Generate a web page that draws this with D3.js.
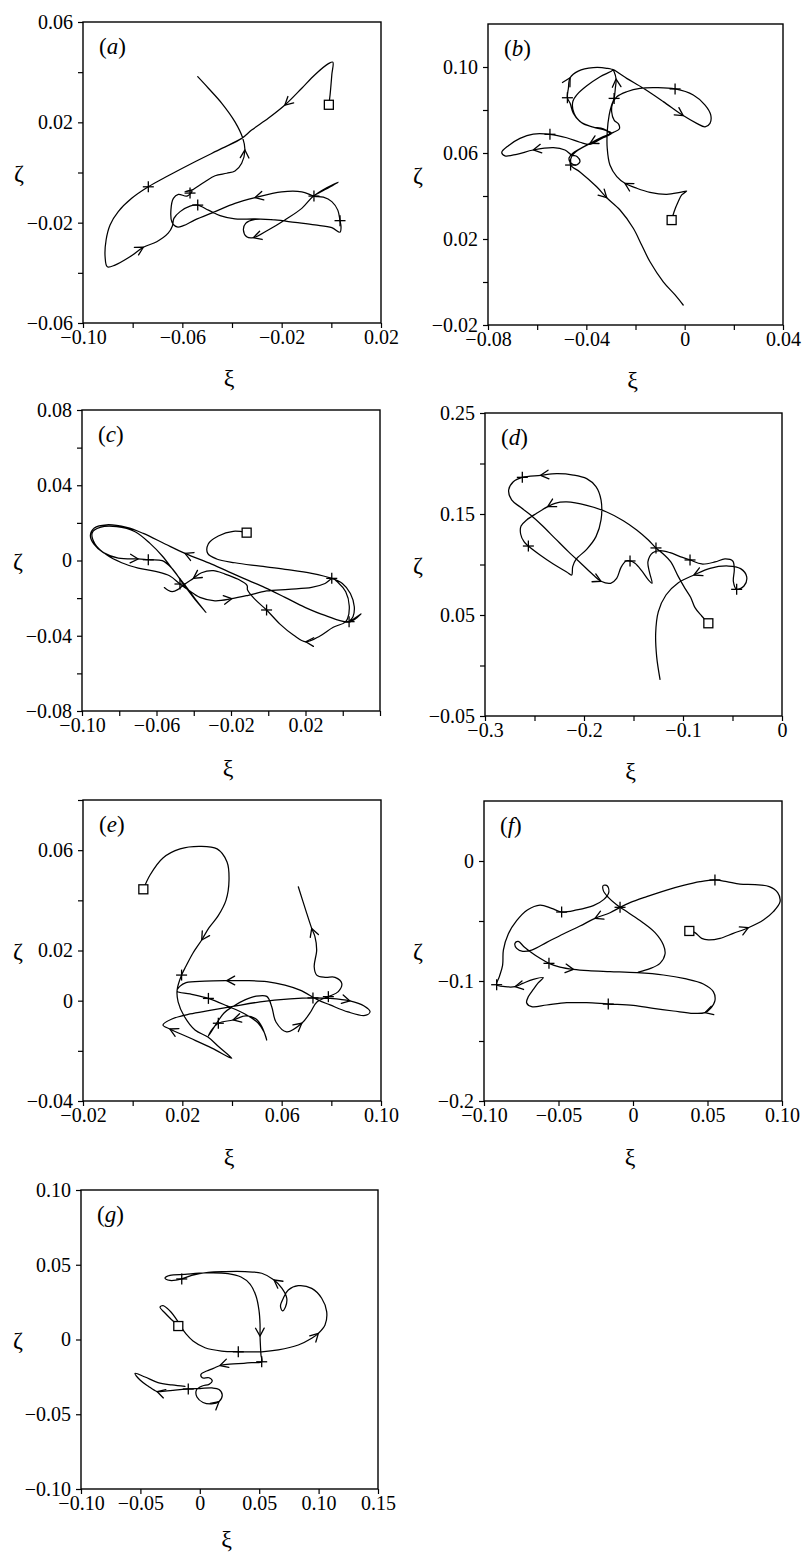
<!DOCTYPE html>
<html>
<head>
<meta charset="utf-8">
<script src="https://cdn.jsdelivr.net/npm/d3@7"></script>
<style>
  html, body { margin: 0; padding: 0; background: #fff; }
  svg { display: block; }
</style>
</head>
<body>
<svg id="fig" width="805" height="1556"></svg>
<script>
// ---------- panel (a) ----------
const trajA = [[-0.001,0.027],[-0.0005,0.031],[0.0002,0.039],[0.0006,0.044],[-0.001,0.0435],[-0.0066,0.039],[-0.0119,0.0336],[-0.0187,0.0269],[-0.0254,0.0216],[-0.0321,0.0169],[-0.0361,0.0136],[-0.0441,0.0096],[-0.0549,0.0043],[-0.0657,-0.0013],[-0.0737,-0.0057],[-0.0804,-0.0103],[-0.0858,-0.0156],[-0.0891,-0.0209],[-0.0907,-0.0269],[-0.0911,-0.0336],[-0.0902,-0.0376],[-0.0871,-0.0369],[-0.0811,-0.0336],[-0.0757,-0.0298],[-0.0703,-0.0276],[-0.0657,-0.0242],[-0.064,-0.0213],[-0.0634,-0.0183],[-0.0609,-0.0156],[-0.0569,-0.0134],[-0.0538,-0.013],[-0.0495,-0.015],[-0.0448,-0.0172],[-0.0388,-0.0185],[-0.0307,-0.0185],[-0.0227,-0.0189],[-0.0146,-0.0199],[-0.0066,-0.0209],[0.0002,-0.022],[0.0035,-0.0238],[0.0039,-0.0216],[0.0035,-0.0192],[0.0026,-0.015],[0.0002,-0.0116],[-0.0032,-0.0098],[-0.007,-0.0094],[-0.0025,-0.0068],[0.0028,-0.0039],[-0.0017,-0.006],[-0.0074,-0.0096],[-0.0119,-0.0143],[-0.0187,-0.0189],[-0.0254,-0.0229],[-0.0314,-0.026],[-0.0341,-0.0256],[-0.0354,-0.0229],[-0.0345,-0.0203],[-0.0307,-0.0187],[-0.0227,-0.0189],[-0.0146,-0.0199],[-0.0066,-0.0209],[0.0002,-0.022],[0.0035,-0.0238],[0.0039,-0.0216],[0.0035,-0.0192],[0.0026,-0.015],[0.0002,-0.0116],[-0.0032,-0.0098],[-0.007,-0.0094],[-0.0119,-0.0077],[-0.020,-0.0077],[-0.0307,-0.010],[-0.0388,-0.0123],[-0.0468,-0.0156],[-0.0549,-0.0189],[-0.0596,-0.0212],[-0.0621,-0.0217],[-0.0642,-0.0197],[-0.0646,-0.015],[-0.0636,-0.0103],[-0.0616,-0.0087],[-0.0581,-0.0094],[-0.0561,-0.0074],[-0.0589,-0.0076],[-0.0557,-0.0068],[-0.0549,-0.0063],[-0.0509,-0.0037],[-0.0468,-0.0013],[-0.0421,-0.0003],[-0.0388,0.0006],[-0.0361,0.0037],[-0.0348,0.009],[-0.0357,0.0138],[-0.0388,0.0202],[-0.0441,0.0276],[-0.0495,0.0336],[-0.0538,0.0382]];
const plusA = [[-0.0737,-0.0057],[-0.0538,-0.013],[0.0035,-0.0192],[-0.007,-0.0094],[-0.0569,-0.0082]];
const arrowsA = [[-0.0187,0.0269],[-0.0757,-0.0298],[-0.0314,-0.026],[-0.0307,-0.010],[-0.0348,0.009]];
const xTicksA = [-0.10,-0.08,-0.06,-0.04,-0.02,0,0.02];
const xLabelsA = ['\u22120.10','','\u22120.06','','\u22120.02','','0.02'];
const yTicksA = [-0.06,-0.04,-0.02,0,0.02,0.04,0.06];
const yLabelsA = ['\u22120.06','','\u22120.02','','0.02','','0.06'];

// ---------- panel (b) ----------
const trajB = [[-0.0053,0.0288],[-0.0043,0.0327],[-0.0026,0.0374],[-0.0012,0.0405],[0.0008,0.0423],[-0.0019,0.0417],[-0.0073,0.0408],[-0.0141,0.0417],[-0.0195,0.0436],[-0.0243,0.0459],[-0.0276,0.049],[-0.0304,0.0544],[-0.0315,0.0622],[-0.0315,0.0699],[-0.0307,0.0777],[-0.0297,0.0823],[-0.0287,0.0854],[-0.0282,0.0901],[-0.0279,0.0944],[-0.0287,0.0978],[-0.0293,0.0989],[-0.0236,0.0947],[-0.0168,0.0901],[-0.0087,0.0839],[-0.0006,0.0774],[0.0049,0.0738],[0.0083,0.0722],[0.0103,0.0738],[0.0106,0.0777],[0.0083,0.0823],[0.0035,0.087],[-0.0039,0.0898],[-0.0114,0.0904],[-0.0182,0.0901],[-0.0236,0.0885],[-0.0276,0.0862],[-0.0293,0.0831],[-0.0297,0.0792],[-0.0287,0.0753],[-0.0268,0.0733],[-0.0266,0.0712],[-0.029,0.0696],[-0.0331,0.0676],[-0.0385,0.0645],[-0.0426,0.0619],[-0.0455,0.0599],[-0.047,0.0578],[-0.0466,0.0557],[-0.0442,0.0544],[-0.0426,0.056],[-0.0437,0.0583],[-0.046,0.0591],[-0.0487,0.0614],[-0.0534,0.0625],[-0.0616,0.0614],[-0.0683,0.0594],[-0.0731,0.0587],[-0.0744,0.0603],[-0.0717,0.0634],[-0.067,0.0668],[-0.0616,0.0688],[-0.0548,0.0687],[-0.048,0.0671],[-0.0426,0.065],[-0.0385,0.064],[-0.0337,0.0668],[-0.0304,0.0687],[-0.0331,0.0712],[-0.0378,0.0722],[-0.0426,0.0746],[-0.0453,0.0785],[-0.0466,0.0831],[-0.0477,0.0857],[-0.0473,0.0901],[-0.0466,0.095],[-0.0433,0.0981],[-0.0372,0.0997],[-0.0317,0.0994],[-0.0293,0.0986],[-0.0344,0.0955],[-0.0398,0.0913],[-0.0437,0.0873],[-0.0455,0.0839],[-0.045,0.0785],[-0.0419,0.0741],[-0.0372,0.072],[-0.0324,0.0706],[-0.0297,0.0692],[-0.0337,0.0671],[-0.0388,0.0642],[-0.0433,0.0614],[-0.046,0.0583],[-0.0464,0.0544],[-0.0426,0.0512],[-0.0358,0.0443],[-0.0317,0.0392],[-0.0263,0.0335],[-0.0209,0.025],[-0.0175,0.0172],[-0.0141,0.0094],[-0.0087,0.0001],[-0.0039,-0.006],[-0.0006,-0.0107]];
const plusB = [[-0.0287,0.0854],[-0.0039,0.0898],[-0.0548,0.0687],[-0.0477,0.0857],[-0.0464,0.0544]];
const arrowsB = [[-0.0243,0.0459],[-0.0279,0.0944],[-0.0006,0.0774],[-0.0385,0.0645],[-0.0616,0.0614],[-0.0466,0.095],[-0.0317,0.0392]];
const xTicksB = [-0.08,-0.06,-0.04,-0.02,0,0.02,0.04];
const xLabelsB = ['\u22120.08','','\u22120.04','','0','','0.04'];
const yTicksB = [-0.02,0,0.02,0.04,0.06,0.08,0.10];
const yLabelsB = ['\u22120.02','','0.02','','0.06','','0.10'];

// ---------- panel (c) ----------
const trajC = [[-0.0116,0.0148],[-0.0188,0.0155],[-0.0268,0.013],[-0.0322,0.0088],[-0.0325,0.0038],[-0.0277,0.0008],[-0.0179,-0.0012],[-0.0053,-0.0029],[0.009,-0.0047],[0.0233,-0.0068],[0.0341,-0.0095],[0.0398,-0.0122],[0.0441,-0.0175],[0.0462,-0.0246],[0.0455,-0.0299],[0.0434,-0.0325],[0.0498,-0.0284],[0.0434,-0.0327],[0.0305,-0.0292],[0.0197,-0.0249],[0.009,-0.0196],[-0.0018,-0.0144],[-0.0107,-0.0106],[-0.0196,-0.0067],[-0.0304,-0.0019],[-0.0447,0.0038],[-0.0554,0.0088],[-0.0671,0.0144],[-0.076,0.0176],[-0.0868,0.019],[-0.0934,0.0173],[-0.0955,0.0134],[-0.0937,0.0088],[-0.0885,0.0042],[-0.0805,0.0013],[-0.0698,0.0008],[-0.0644,0.0004],[-0.0569,-0.0001],[-0.0515,-0.0044],[-0.0465,-0.0113],[-0.0402,-0.0196],[-0.0334,-0.0277],[-0.0384,-0.0215],[-0.0443,-0.0136],[-0.0504,-0.0059],[-0.0569,0.0024],[-0.0635,0.0091],[-0.0715,0.0153],[-0.0814,0.018],[-0.0903,0.0176],[-0.0945,0.0148],[-0.093,0.0088],[-0.0868,0.003],[-0.0787,-0.0012],[-0.0698,-0.004],[-0.0599,-0.0059],[-0.0528,-0.0082],[-0.0474,-0.0125],[-0.0429,-0.0157],[-0.0367,-0.0196],[-0.0286,-0.0214],[-0.0196,-0.0203],[-0.0107,-0.0185],[-0.0009,-0.0162],[0.0108,-0.0153],[0.0233,-0.0143],[0.0305,-0.0122],[0.0344,-0.0097],[0.0376,-0.0118],[0.0416,-0.0166],[0.0435,-0.0242],[0.0426,-0.0308],[0.0412,-0.0329],[0.0349,-0.0355],[0.0278,-0.0401],[0.0201,-0.0432],[0.0135,-0.0396],[0.0063,-0.0338],[-0.0009,-0.0263],[-0.0071,-0.0207],[-0.0111,-0.0157],[-0.0114,-0.0132],[-0.0161,-0.010],[-0.0232,-0.0072],[-0.0295,-0.0054],[-0.0358,-0.0065],[-0.0402,-0.0095],[-0.0447,-0.0125],[-0.0483,-0.0153],[-0.0515,-0.0166],[-0.054,-0.0157],[-0.0558,-0.0144]];
const plusC = [[0.0341,-0.0095],[0.0434,-0.0325],[-0.0644,0.0004],[-0.0474,-0.0125],[-0.0009,-0.0263]];
const arrowsC = [[-0.0447,0.0038],[-0.0698,0.0008],[-0.0196,-0.0203],[0.0201,-0.0432],[-0.0402,-0.0095]];
const xTicksC = [-0.10,-0.08,-0.06,-0.04,-0.02,0,0.02,0.04,0.06];
const xLabelsC = ['\u22120.10','','\u22120.06','','\u22120.02','','0.02','',''];
const yTicksC = [-0.08,-0.06,-0.04,-0.02,0,0.02,0.04,0.06,0.08];
const yLabelsC = ['\u22120.08','','\u22120.04','','0','','0.04','','0.08'];

// ---------- panel (d) ----------
const trajD = [[-0.0744,0.0418],[-0.0811,0.049],[-0.0879,0.0573],[-0.0923,0.0675],[-0.098,0.0764],[-0.1047,0.088],[-0.1125,0.1028],[-0.1199,0.1104],[-0.1273,0.1164],[-0.135,0.1243],[-0.1468,0.1342],[-0.1603,0.1434],[-0.1771,0.152],[-0.1973,0.1586],[-0.2175,0.1619],[-0.2293,0.1606],[-0.2367,0.1573],[-0.2478,0.1507],[-0.2579,0.1441],[-0.2636,0.1381],[-0.264,0.1302],[-0.2606,0.1226],[-0.2562,0.1183],[-0.2444,0.1094],[-0.231,0.1005],[-0.2175,0.0926],[-0.2125,0.0896],[-0.2114,0.0979],[-0.2081,0.1051],[-0.1973,0.115],[-0.1879,0.1276],[-0.1828,0.1441],[-0.1828,0.1639],[-0.1879,0.1771],[-0.1973,0.185],[-0.2108,0.1886],[-0.2276,0.1899],[-0.2438,0.1883],[-0.2623,0.1863],[-0.2714,0.182],[-0.2761,0.1738],[-0.2731,0.1639],[-0.264,0.1566],[-0.2539,0.149],[-0.2428,0.1391],[-0.2293,0.1259],[-0.2158,0.1127],[-0.2024,0.1005],[-0.1906,0.0896],[-0.1828,0.0834],[-0.1731,0.0814],[-0.167,0.0863],[-0.1626,0.0972],[-0.1576,0.1035],[-0.1535,0.1035],[-0.1485,0.1012],[-0.1418,0.0939],[-0.135,0.0847],[-0.1313,0.0814],[-0.134,0.0929],[-0.1354,0.1028],[-0.1306,0.1117],[-0.1232,0.1137],[-0.1131,0.1117],[-0.103,0.1078],[-0.0929,0.1045],[-0.0811,0.1005],[-0.0677,0.1025],[-0.0576,0.1055],[-0.0498,0.1035],[-0.0482,0.0952],[-0.0491,0.083],[-0.0458,0.0754],[-0.0384,0.0787],[-0.0357,0.088],[-0.0418,0.0959],[-0.0542,0.0985],[-0.0727,0.0962],[-0.0889,0.0896],[-0.1047,0.082],[-0.1172,0.0698],[-0.1249,0.0533],[-0.1276,0.0319],[-0.1266,0.0088],[-0.1232,-0.0137]];
const plusD = [[-0.1273,0.1164],[-0.2562,0.1183],[-0.2623,0.1863],[-0.1535,0.1035],[-0.0929,0.1045],[-0.0458,0.0754]];
const arrowsD = [[-0.2367,0.1573],[-0.2438,0.1883],[-0.1828,0.0834],[-0.0889,0.0896]];
const xTicksD = [-0.3,-0.25,-0.2,-0.15,-0.1,-0.05,0];
const xLabelsD = ['\u22120.3','','\u22120.2','','\u22120.1','','0'];
const yTicksD = [-0.05,0,0.05,0.10,0.15,0.20,0.25];
const yLabelsD = ['\u22120.05','','0.05','','0.15','','0.25'];

// ---------- panel (e) ----------
const trajE = [[0.0043,0.0444],[0.007,0.0501],[0.0122,0.0569],[0.0191,0.0605],[0.0271,0.0615],[0.034,0.0605],[0.038,0.0553],[0.0388,0.0481],[0.0376,0.0401],[0.0344,0.0338],[0.0307,0.029],[0.0278,0.0242],[0.0243,0.019],[0.0215,0.0138],[0.0197,0.0102],[0.0179,0.0042],[0.0183,-0.0005],[0.0207,-0.0061],[0.0251,-0.0117],[0.0303,-0.0145],[0.0348,-0.0185],[0.0399,-0.023],[0.0319,-0.0189],[0.0231,-0.0149],[0.015,-0.0113],[0.0122,-0.0097],[0.0158,-0.0073],[0.0231,-0.0053],[0.0311,-0.0039],[0.0404,-0.0023],[0.0513,-0.0005],[0.0634,0.0007],[0.0726,0.0011],[0.0795,0.0009],[0.0875,-0.0001],[0.0932,-0.0021],[0.0956,-0.0044],[0.0936,-0.0059],[0.0867,-0.0045],[0.0795,-0.0017],[0.0746,0.0003],[0.0674,0.0042],[0.0613,0.0062],[0.054,0.0076],[0.0456,0.008],[0.0379,0.008],[0.0291,0.0078],[0.0215,0.0072],[0.0191,0.0058],[0.0179,0.0038],[0.0231,0.0027],[0.0305,0.0009],[0.038,-0.0021],[0.0452,-0.0053],[0.0505,-0.0089],[0.0529,-0.0125],[0.054,-0.0157],[0.0521,-0.0105],[0.0497,-0.0073],[0.0456,-0.0061],[0.0404,-0.0077],[0.0345,-0.009],[0.0315,-0.0121],[0.0305,-0.0141],[0.0368,-0.0049],[0.0404,-0.0023],[0.0452,0.0003],[0.0493,0.0017],[0.054,0.0017],[0.056,-0.0024],[0.0577,-0.0085],[0.062,-0.0124],[0.0681,-0.009],[0.0714,-0.0049],[0.0742,-0.0005],[0.0788,0.0016],[0.0828,0.0036],[0.0842,0.0069],[0.0815,0.0093],[0.0775,0.0093],[0.0741,0.0102],[0.0731,0.0135],[0.0741,0.0202],[0.0734,0.0255],[0.0721,0.0288],[0.0701,0.0348],[0.0667,0.0454]];
const plusE = [[0.0197,0.0102],[0.0305,0.0009],[0.0345,-0.009],[0.0726,0.0011],[0.0788,0.0016]];
const arrowsE = [[0.0278,0.0242],[0.015,-0.0113],[0.0875,-0.0001],[0.0379,0.008],[0.0404,-0.0077],[0.0681,-0.009],[0.0721,0.0288]];
const xTicksE = [-0.02,0,0.02,0.04,0.06,0.08,0.10];
const xLabelsE = ['\u22120.02','','0.02','','0.06','','0.10'];
const yTicksE = [-0.04,-0.02,0,0.02,0.04,0.06,0.08];
const yLabelsE = ['\u22120.04','','0','0.02','','0.06',''];

// ---------- panel (f) ----------
const trajF = [[0.0378,-0.0583],[0.0416,-0.0597],[0.0461,-0.0645],[0.0506,-0.0658],[0.0584,-0.0645],[0.0673,-0.0603],[0.0774,-0.0556],[0.0875,-0.0492],[0.0942,-0.0422],[0.0987,-0.0339],[0.0971,-0.0264],[0.0915,-0.0214],[0.0819,-0.0197],[0.0718,-0.0192],[0.0629,-0.0172],[0.055,-0.0158],[0.045,-0.0172],[0.0338,-0.0203],[0.0226,-0.0242],[0.0092,-0.0297],[-0.002,-0.0347],[-0.0087,-0.0386],[-0.0154,-0.0431],[-0.0255,-0.0478],[-0.0356,-0.0542],[-0.0468,-0.0608],[-0.0579,-0.0678],[-0.068,-0.0742],[-0.074,-0.0753],[-0.0781,-0.0728],[-0.0792,-0.0686],[-0.077,-0.067],[-0.0732,-0.0714],[-0.068,-0.0764],[-0.0624,-0.0811],[-0.0564,-0.0853],[-0.049,-0.0884],[-0.040,-0.0903],[-0.030,-0.0914],[-0.0154,-0.0922],[0.0025,-0.0931],[0.0204,-0.095],[0.0349,-0.0981],[0.0472,-0.1025],[0.0539,-0.1089],[0.055,-0.1164],[0.0521,-0.1228],[0.0483,-0.1264],[0.0405,-0.127],[0.0271,-0.125],[0.0136,-0.1228],[0.0002,-0.1203],[-0.0166,-0.1192],[-0.0311,-0.1181],[-0.0445,-0.1181],[-0.0579,-0.120],[-0.068,-0.1214],[-0.0714,-0.1181],[-0.0702,-0.113],[-0.0669,-0.107],[-0.0635,-0.1014],[-0.0602,-0.0972],[-0.0669,-0.0986],[-0.074,-0.102],[-0.0792,-0.1047],[-0.0859,-0.1047],[-0.0915,-0.1031],[-0.0897,-0.0964],[-0.0875,-0.0867],[-0.087,-0.0742],[-0.0837,-0.0608],[-0.0781,-0.0497],[-0.0709,-0.0408],[-0.0624,-0.0367],[-0.0546,-0.0395],[-0.0479,-0.0425],[-0.0378,-0.0408],[-0.0266,-0.0372],[-0.0195,-0.032],[-0.0163,-0.0264],[-0.0172,-0.0208],[-0.0199,-0.0203],[-0.0199,-0.0247],[-0.0166,-0.0303],[-0.011,-0.0364],[-0.0031,-0.0431],[0.0058,-0.0506],[0.0148,-0.0597],[0.0204,-0.070],[0.0215,-0.0775],[0.0181,-0.0853],[0.0114,-0.0897],[0.0036,-0.0925]];
const plusF = [[0.055,-0.0158],[-0.0087,-0.0386],[-0.0564,-0.0853],[-0.0166,-0.1192],[-0.0915,-0.1031],[-0.0479,-0.0425]];
const arrowsF = [[0.0774,-0.0556],[-0.0255,-0.0478],[-0.040,-0.0903],[0.0483,-0.1264],[-0.0792,-0.1047]];
const xTicksF = [-0.10,-0.05,0,0.05,0.10];
const xLabelsF = ['\u22120.10','\u22120.05','0','0.05','0.10'];
const yTicksF = [-0.2,-0.15,-0.1,-0.05,0];
const yLabelsF = ['\u22120.2','','\u22120.1','','0'];

// ---------- panel (g) ----------
const trajG = [[-0.0181,0.009],[-0.0234,0.013],[-0.0293,0.0177],[-0.0335,0.0217],[-0.031,0.0227],[-0.0251,0.0191],[-0.0192,0.013],[-0.0158,0.0084],[-0.0116,0.0037],[-0.0057,-0.001],[0.0044,-0.0055],[0.0184,-0.0077],[0.0324,-0.0082],[0.0521,-0.0082],[0.0661,-0.007],[0.0829,-0.0037],[0.0942,0.0008],[0.0998,0.0041],[0.1054,0.0097],[0.1068,0.0186],[0.1026,0.0276],[0.0942,0.0342],[0.0829,0.036],[0.0745,0.0331],[0.0703,0.0276],[0.0679,0.0224],[0.0696,0.0191],[0.0721,0.0217],[0.0732,0.0276],[0.0692,0.0342],[0.0625,0.0398],[0.0521,0.0443],[0.0381,0.0454],[0.0212,0.0454],[0.0072,0.0449],[-0.0068,0.0429],[-0.0152,0.0405],[-0.0251,0.0395],[-0.0293,0.0411],[-0.0251,0.0429],[-0.0125,0.0436],[0.0044,0.0445],[0.0237,0.0441],[0.0347,0.0418],[0.0423,0.0371],[0.0473,0.0291],[0.0498,0.0197],[0.0507,0.0104],[0.0507,0.0023],[0.0511,-0.005],[0.0515,-0.0104],[0.0521,-0.0149],[0.0437,-0.0155],[0.0324,-0.0162],[0.0229,-0.0166],[0.017,-0.0174],[0.0114,-0.0193],[0.0058,-0.0211],[0.001,-0.0233],[0.0021,-0.0256],[0.0078,-0.0256],[0.0105,-0.0278],[0.0078,-0.030],[0.0021,-0.0311],[-0.0028,-0.0338],[-0.0024,-0.0385],[0.0027,-0.0421],[0.010,-0.0431],[0.0162,-0.0415],[0.0189,-0.0371],[0.0162,-0.0334],[0.0103,-0.0324],[0.0002,-0.0328],[-0.0097,-0.0331],[-0.0209,-0.0338],[-0.0293,-0.0345],[-0.036,-0.0348],[-0.0436,-0.0311],[-0.0503,-0.0271],[-0.0545,-0.0226],[-0.0461,-0.0251],[-0.0352,-0.0288],[-0.0234,-0.0304],[-0.0125,-0.0314]];
const plusG = [[0.0324,-0.0082],[-0.0152,0.0405],[0.0521,-0.0149],[-0.0097,-0.0331]];
const arrowsG = [[0.0998,0.0041],[0.0625,0.0398],[0.0507,0.0023],[0.017,-0.0174],[0.0162,-0.0415],[-0.036,-0.0348]];
const xTicksG = [-0.10,-0.05,0,0.05,0.10,0.15];
const xLabelsG = ['\u22120.10','\u22120.05','0','0.05','0.10','0.15'];
const yTicksG = [-0.10,-0.05,0,0.05,0.10];
const yLabelsG = ['\u22120.10','\u22120.05','0','0.05','0.10'];

// ---------- layout of the seven frames ----------
const panels = [
  { tag:'a', traj:trajA, plus:plusA, arrows:arrowsA, xt:xTicksA, xl:xLabelsA, yt:yTicksA, yl:yLabelsA, xd:[-0.10,0.02], yd:[-0.06,0.06], box:[83,22,381,323], zx:19, xiy:55 },
  { tag:'b', traj:trajB, plus:plusB, arrows:arrowsB, xt:xTicksB, xl:xLabelsB, yt:yTicksB, yl:yLabelsB, xd:[-0.08,0.04], yd:[-0.02,0.12], box:[488,24,783,325], zx:418, xiy:55 },
  { tag:'c', traj:trajC, plus:plusC, arrows:arrowsC, xt:xTicksC, xl:xLabelsC, yt:yTicksC, yl:yLabelsC, xd:[-0.10,0.06], yd:[-0.08,0.08], box:[82,410,380,711], zx:18, xiy:57 },
  { tag:'d', traj:trajD, plus:plusD, arrows:arrowsD, xt:xTicksD, xl:xLabelsD, yt:yTicksD, yl:yLabelsD, xd:[-0.3,0], yd:[-0.05,0.25], box:[485,413,782,716], zx:418, xiy:55 },
  { tag:'e', traj:trajE, plus:plusE, arrows:arrowsE, xt:xTicksE, xl:xLabelsE, yt:yTicksE, yl:yLabelsE, xd:[-0.02,0.10], yd:[-0.04,0.08], box:[83,800,381,1101], zx:18, xiy:56 },
  { tag:'f', traj:trajF, plus:plusF, arrows:arrowsF, xt:xTicksF, xl:xLabelsF, yt:yTicksF, yl:yLabelsF, xd:[-0.10,0.10], yd:[-0.2,0.05], box:[484,801,782,1101], zx:418, xiy:32 },
  { tag:'g', traj:trajG, plus:plusG, arrows:arrowsG, xt:xTicksG, xl:xLabelsG, yt:yTicksG, yl:yLabelsG, xd:[-0.10,0.15], yd:[-0.10,0.10], box:[81,1190,378,1489], zx:18, xiy:50 }
];

const FONT = "'Liberation Serif', 'Times New Roman', Times, serif";
const svg = d3.select('#fig');
svg.append('rect').attr('width', 805).attr('height', 1556).attr('fill', '#fff');

function drawPanel(p) {
  const [x0, y0, x1, y1] = p.box;
  const x = d3.scaleLinear().domain(p.xd).range([x0, x1]);
  const y = d3.scaleLinear().domain(p.yd).range([y1, y0]);
  const g = svg.append('g').attr('class', 'panel-' + p.tag);

  // axes (ticks + labels); the frame is drawn separately
  const xa = g.append('g').attr('transform', `translate(0,${y1})`)
    .call(d3.axisBottom(x).tickValues(p.xt).tickSizeInner(5).tickSizeOuter(0).tickPadding(2)
      .tickFormat((d, i) => p.xl[i]));
  const ya = g.append('g').attr('transform', `translate(${x0},0)`)
    .call(d3.axisLeft(y).tickValues(p.yt).tickSizeInner(5).tickSizeOuter(0).tickPadding(5)
      .tickFormat((d, i) => p.yl[i]));
  [xa, ya].forEach(a => {
    a.select('.domain').remove();
    a.attr('font-family', null).attr('font-size', null)
     .style('font-family', FONT).style('font-size', '20px');
    a.selectAll('line').attr('stroke', '#000').attr('stroke-width', 1.2);
    a.selectAll('text').attr('fill', '#000');
  });

  g.append('rect').attr('x', x0).attr('y', y0).attr('width', x1 - x0).attr('height', y1 - y0)
    .attr('fill', 'none').attr('stroke', '#000').attr('stroke-width', 1.4);

  // axis titles
  g.append('text').attr('x', (x0 + x1) / 2 - 3).attr('y', y1 + p.xiy + (p.tag === 'f' ? 24 : 0))
    .attr('text-anchor', 'middle').attr('dominant-baseline', 'central')
    .style('font-family', FONT).style('font-size', '24px').text('\u03BE');
  g.append('text').attr('x', p.zx).attr('y', (y0 + y1) / 2)
    .attr('text-anchor', 'middle').attr('dominant-baseline', 'central')
    .style('font-family', FONT).style('font-size', '24px').text('\u03B6');

  // panel tag
  const t = g.append('text').attr('x', x0 + 16).attr('y', y0 + 32)
    .style('font-family', FONT).style('font-size', '23px');
  t.append('tspan').text('(');
  t.append('tspan').attr('font-style', 'italic').text(p.tag);
  t.append('tspan').text(')');

  // trajectory
  const line = d3.line().x(d => x(d[0])).y(d => y(d[1])).curve(d3.curveCatmullRom.alpha(0.5));
  g.append('path').datum(p.traj).attr('d', line)
    .attr('fill', 'none').attr('stroke', '#000').attr('stroke-width', 1.25)
    .attr('stroke-linejoin', 'round').attr('stroke-linecap', 'round');

  // start marker
  const s = p.traj[0];
  g.append('rect').attr('x', x(s[0]) - 4.5).attr('y', y(s[1]) - 4.5).attr('width', 9).attr('height', 9)
    .attr('fill', '#fff').attr('stroke', '#000').attr('stroke-width', 1.3);

  // time markers (+)
  const pl = g.append('g').attr('stroke', '#000').attr('stroke-width', 1.3);
  p.plus.forEach(d => {
    const cx = x(d[0]), cy = y(d[1]);
    pl.append('line').attr('x1', cx - 5.5).attr('x2', cx + 5.5).attr('y1', cy).attr('y2', cy);
    pl.append('line').attr('x1', cx).attr('x2', cx).attr('y1', cy - 5.5).attr('y2', cy + 5.5);
  });

  // direction chevrons, oriented along the local path direction
  const pts = p.traj.map(d => [x(d[0]), y(d[1])]);
  const ar = g.append('g').attr('fill', 'none').attr('stroke', '#000').attr('stroke-width', 1.3)
    .attr('stroke-linecap', 'round').attr('stroke-linejoin', 'round');
  p.arrows.forEach(d => {
    const px = x(d[0]), py = y(d[1]);
    let bi = 0, bd = Infinity;
    pts.forEach((q, i) => { const dd = (q[0] - px) ** 2 + (q[1] - py) ** 2; if (dd < bd) { bd = dd; bi = i; } });
    const a = pts[Math.max(0, bi - 1)], b = pts[Math.min(pts.length - 1, bi + 1)];
    let dx = b[0] - a[0], dy = b[1] - a[1];
    const n = Math.hypot(dx, dy) || 1; dx /= n; dy /= n;
    const L = 9, th = 0.5;
    const arm = sgn => {
      const c = Math.cos(sgn * th), sn = Math.sin(sgn * th);
      const rx = dx * c - dy * sn, ry = dx * sn + dy * c;
      return [px - L * rx, py - L * ry];
    };
    const p1 = arm(1), p2 = arm(-1);
    ar.append('path').attr('d', `M${p1[0]},${p1[1]}L${px},${py}L${p2[0]},${p2[1]}`);
  });
}

panels.forEach(drawPanel);
</script>
</body>
</html>
